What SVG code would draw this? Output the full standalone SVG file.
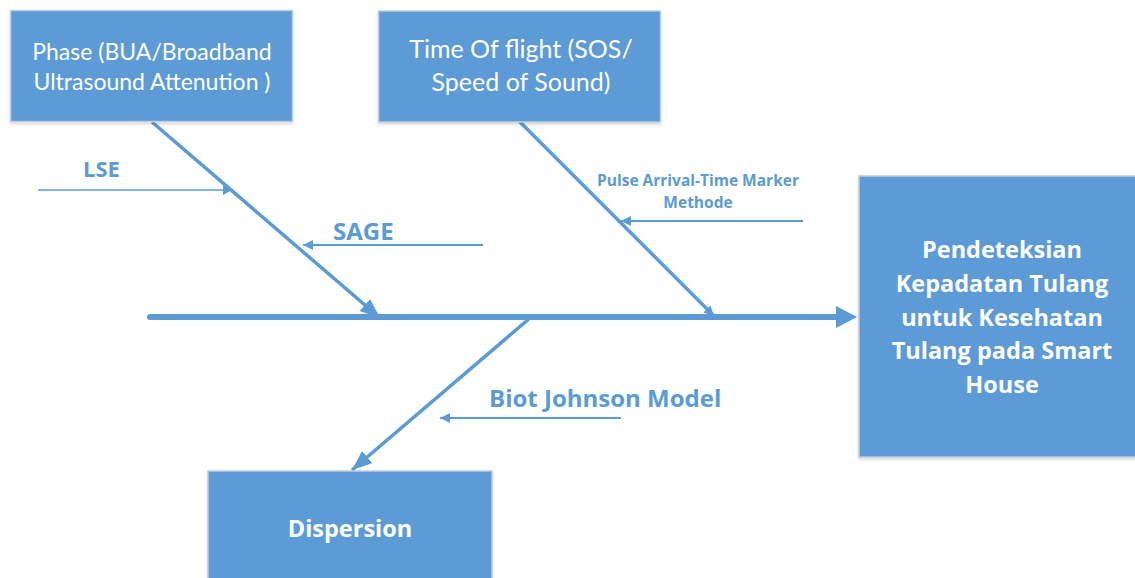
<svg xmlns="http://www.w3.org/2000/svg" width="1135" height="578" viewBox="0 0 1135 578">
<style>
.box{fill:#5B9BD5;stroke:#BFCDDD;stroke-width:1.5}
.wt{fill:#FFFFFF;font-family:Lato,"Open Sans",sans-serif;text-anchor:middle}
.b{font-family:"Open Sans",Lato,sans-serif;font-weight:bold}
.lbl{fill:#5B9BD5;font-family:"Open Sans",Lato,sans-serif;font-weight:bold}
.ln{stroke:#5B9BD5;fill:none}
</style>
<defs>
<filter id="sh" x="-5%" y="-5%" width="110%" height="115%"><feDropShadow dx="0" dy="2" stdDeviation="1.5" flood-color="#000" flood-opacity="0.15"/></filter>
<marker id="big" markerUnits="userSpaceOnUse" markerWidth="22" markerHeight="18" refX="20" refY="8" orient="auto"><path d="M0,0 L20,8 L0,16 z" fill="#5B9BD5"/></marker>
<marker id="spine" markerUnits="userSpaceOnUse" markerWidth="24" markerHeight="24" refX="1" refY="11" orient="auto"><path d="M0,0 L21,11 L0,22 z" fill="#5B9BD5"/></marker>
<marker id="med" markerUnits="userSpaceOnUse" markerWidth="12" markerHeight="12" refX="10" refY="5" orient="auto"><path d="M0,0 L10,5 L0,10 z" fill="#5B9BD5"/></marker>
<marker id="sm" markerUnits="userSpaceOnUse" markerWidth="12" markerHeight="12" refX="9" refY="5" orient="auto"><path d="M0,0 L9,5 L0,10 z" fill="#5B9BD5"/></marker>
</defs>
<g id="connectors">
<line class="ln" x1="150" y1="317" x2="837" y2="317" stroke-width="6" stroke-linecap="round" marker-end="url(#spine)"/>
<line class="ln" x1="152" y1="122" x2="380" y2="318" stroke-width="3.5" marker-end="url(#big)"/>
<line class="ln" x1="520" y1="122" x2="714" y2="316" stroke-width="3.5" marker-end="url(#med)"/>
<line class="ln" x1="530" y1="318" x2="352" y2="470" stroke-width="3.5" marker-end="url(#big)"/>
<line class="ln" x1="38" y1="190" x2="232" y2="190" stroke-width="1.5" marker-end="url(#sm)"/>
<line class="ln" x1="483" y1="245" x2="303" y2="245" stroke-width="2" marker-end="url(#med)"/>
<line class="ln" x1="803" y1="221" x2="621" y2="221" stroke-width="2" marker-end="url(#med)"/>
<line class="ln" x1="621" y1="418" x2="440" y2="418" stroke-width="2" marker-end="url(#med)"/>
</g>
<g id="node-phase">
<rect class="box" x="10.5" y="10.5" width="282" height="111" filter="url(#sh)"/>
<text class="wt" x="152" y="60" font-size="23">Phase (BUA/Broadband</text>
<text class="wt" x="152" y="90" font-size="23">Ultrasound Attenution )</text>
</g>
<g id="node-time">
<rect class="box" x="378.5" y="11" width="282" height="111" filter="url(#sh)"/>
<text class="wt" x="521" y="58" font-size="25">Time Of flight (SOS/</text>
<text class="wt" x="521" y="91" font-size="25">Speed of Sound)</text>
</g>
<g id="node-target">
<rect class="box" x="859" y="176" width="290" height="281" filter="url(#sh)"/>
<text class="wt b" x="1002" y="258" font-size="23.5">Pendeteksian</text>
<text class="wt b" x="1002" y="292" font-size="23.5">Kepadatan Tulang</text>
<text class="wt b" x="1002" y="326" font-size="23.5">untuk Kesehatan</text>
<text class="wt b" x="1002" y="359" font-size="23.5">Tulang pada Smart</text>
<text class="wt b" x="1002" y="393" font-size="23.5">House</text>
</g>
<g id="node-dispersion">
<rect class="box" x="208" y="471" width="284" height="120" filter="url(#sh)"/>
<text class="wt b" x="350" y="537" font-size="23.5">Dispersion</text>
</g>
<g id="labels">
<text class="lbl" x="83" y="177" font-size="22">LSE</text>
<text class="lbl" x="333" y="240" font-size="24">SAGE</text>
<text class="lbl" x="698" y="186" font-size="15.5" text-anchor="middle">Pulse Arrival-Time Marker</text>
<text class="lbl" x="698" y="208" font-size="15.5" text-anchor="middle">Methode</text>
<text class="lbl" x="489" y="407" font-size="24">Biot Johnson Model</text>
</g>
</svg>
